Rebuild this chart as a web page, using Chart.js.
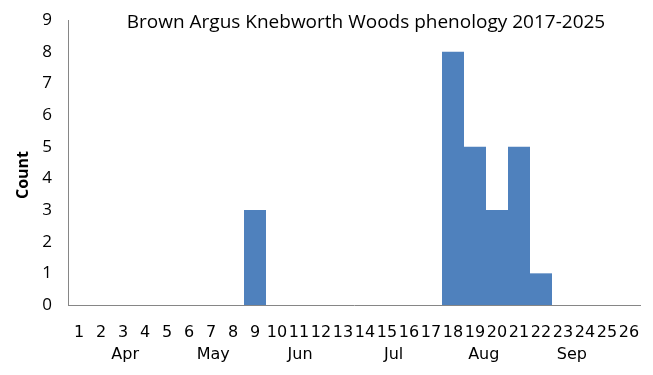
<!DOCTYPE html>
<html lang="en">
<head>
<meta charset="UTF-8">
<title>Brown Argus phenology</title>
<script src="https://cdn.jsdelivr.net/npm/chart.js"></script>
<style>
    body { margin: 0; background: #fff; }
    #wrap { width: 653px; height: 375px; }
</style>
</head>
<body>
<div id="wrap"><canvas id="chart" width="653" height="375"></canvas></div>
<script>
    // weeks 1..26 and counts
    const weeks = ['1','2','3','4','5','6','7','8','9','10','11','12','13','14','15','16','17','18','19','20','21','22','23','24','25','26'];
    const counts = [0,0,0,0,0,0,0,0,3,0,0,0,0,0,0,0,0,8,5,3,5,1,0,0,0,0];
    const months = ['Apr','May','Jun','Jul','Aug','Sep'];
    const monthWeek = [3.1, 7.1, 11.05, 15.3, 19.4, 23.4]; // week position of each month label
    const chartTitle = 'Brown Argus Knebworth Woods phenology 2017-2025';
    const yTitle = 'Count';

    const axisGrey = '#868686';

    // title, y title and month row drawn by hand
    const extras = {
        id: 'extras',
        afterDraw(chart) {
            const ctx = chart.ctx;
            const xs = chart.scales.x;
            ctx.save();
            ctx.fillStyle = '#000';
            ctx.textAlign = 'center';
            ctx.textBaseline = 'middle';
            ctx.font = '19px "Open Sans", sans-serif';
            ctx.fillText(chartTitle, 366, 23);
            ctx.font = '16px "DejaVu Sans", sans-serif';
            months.forEach((m, i) => {
                ctx.fillText(m, xs.getPixelForValue(monthWeek[i] - 1), 355);
            });
            ctx.translate(23, 175);
            ctx.rotate(-Math.PI / 2);
            ctx.font = 'bold 16px "Open Sans", sans-serif';
            ctx.fillText(yTitle, 0, 0);
            ctx.restore();
        }
    };

    new Chart(document.getElementById('chart'), {
        type: 'bar',
        data: {
            labels: weeks,
            datasets: [{
                data: counts,
                backgroundColor: '#4F81BD',
                categoryPercentage: 1.0,
                barPercentage: 1.0,
                inflateAmount: 0
            }]
        },
        options: {
            responsive: false,
            animation: false,
            layout: { padding: { left: 0, right: 13, top: 20, bottom: 0 } },
            plugins: {
                legend: { display: false },
                tooltip: { enabled: false }
            },
            scales: {
                x: {
                    grid: { display: false, drawTicks: false },
                    border: { color: axisGrey },
                    ticks: {
                        autoSkip: false,
                        maxRotation: 0,
                        padding: 18,
                        color: '#000',
                        font: { family: '"DejaVu Sans", sans-serif', size: 16 }
                    },
                    afterFit: s => { s.height = 70; s.paddingLeft = 0; s.paddingRight = 0; }
                },
                y: {
                    min: 0,
                    max: 9,
                    grid: { display: false, drawTicks: true, tickLength: 6, tickColor: axisGrey },
                    border: { color: axisGrey },
                    ticks: {
                        stepSize: 1,
                        padding: 10,
                        color: '#000',
                        font: { family: '"Open Sans", sans-serif', size: 17 }
                    },
                    afterFit: s => { s.width = 68; s.paddingTop = 0; s.paddingBottom = 0; }
                }
            }
        },
        plugins: [extras]
    });
</script>
</body>
</html>
